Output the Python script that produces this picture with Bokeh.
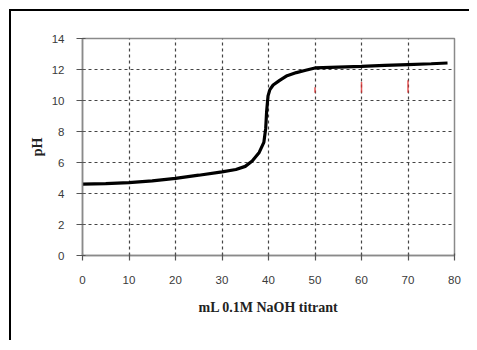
from bokeh.plotting import figure
from bokeh.models import Range1d, FixedTicker
from bokeh.embed import file_html
from bokeh.resources import INLINE

# titration curve data
ml_naoh = [0, 5, 10, 15, 20, 25, 30, 33, 35, 36.5, 38, 39, 39.4, 39.6, 39.9,
           40.3, 41, 42.4, 44, 46, 48, 50, 55, 60, 65, 70, 75, 78.5]
ph = [4.6, 4.64, 4.7, 4.82, 4.98, 5.18, 5.4, 5.55, 5.75, 6.1, 6.65, 7.3, 8.2,
      9.3, 10.3, 10.7, 11.0, 11.3, 11.6, 11.8, 11.95, 12.1, 12.15, 12.2, 12.26,
      12.32, 12.37, 12.42]

x_ticks = [0, 10, 20, 30, 40, 50, 60, 70, 80]
y_ticks = [0, 2, 4, 6, 8, 10, 12, 14]

# faint red marks present in the scanned original
mark_x = [50, 60, 70]
mark_y0 = [10.5, 10.5, 10.5]
mark_y1 = [10.85, 11.2, 11.3]

p = figure(frame_width=372, frame_height=217,
           min_border_left=71, min_border_top=27, min_border_right=15,
           min_border_bottom=85,
           x_range=Range1d(0, 80), y_range=Range1d(0, 14),
           output_backend="svg", toolbar_location=None)
p.styles = {"border-top": "2px solid black", "border-left": "2px solid black",
            "margin-left": "9px", "margin-top": "9px"}

p.background_fill_color = "white"
p.border_fill_color = "white"
p.outline_line_color = "#8a8a8a"
p.outline_line_width = 1.5

p.segment(x0=mark_x, y0=mark_y0, x1=mark_x, y1=mark_y1,
          line_color="#e03030", line_width=1.5, line_alpha=0.8)
p.line(ml_naoh, ph, line_color="black", line_width=3.2)

for ax in (p.xaxis, p.yaxis):
    ax.axis_line_color = "#8a8a8a"
    ax.axis_line_width = 1.5
    ax.major_tick_line_color = "#555555"
    ax.major_tick_line_width = 1.2
    ax.minor_tick_line_color = None
    ax.major_label_text_font = "Liberation Sans"
    ax.major_label_text_font_size = "11.5px"
    ax.major_label_text_color = "#3a3a3a"
    ax.axis_label_text_font = "Liberation Serif"
    ax.axis_label_text_font_style = "bold"
    ax.axis_label_text_font_size = "14px"
    ax.axis_label_text_color = "#222222"

p.xaxis.ticker = FixedTicker(ticks=x_ticks)
p.yaxis.ticker = FixedTicker(ticks=y_ticks)
p.xaxis.major_tick_in = 2
p.xaxis.major_tick_out = 5
p.yaxis.major_tick_in = 3
p.yaxis.major_tick_out = 6
p.xaxis.major_label_standoff = 15
p.yaxis.major_label_standoff = 12
p.xaxis.axis_label = "mL 0.1M NaOH titrant"
p.yaxis.axis_label = "pH"
p.xaxis.axis_label_standoff = 13
p.yaxis.axis_label_standoff = 4

for g in (p.xgrid, p.ygrid):
    g.grid_line_color = "#444444"
    g.grid_line_width = 1.2
    g.grid_line_dash = "3 3"

open("out.html", "w").write(file_html(p, INLINE))
